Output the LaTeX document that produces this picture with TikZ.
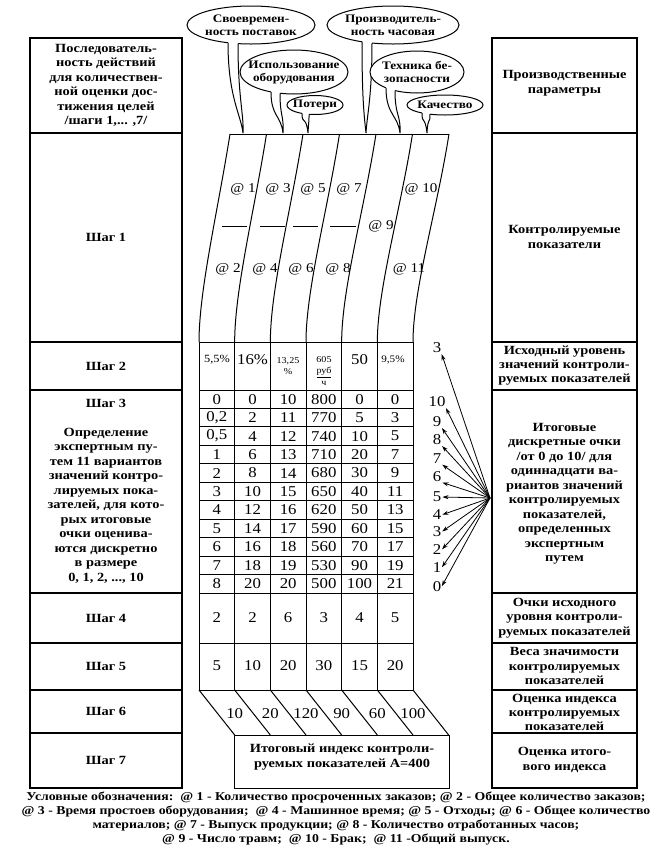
\documentclass[tikz,border=0pt]{standalone}
\usepackage{fontspec}
\setmainfont{Liberation Serif}[FakeStretch=1.15]
\newfontfamily\numfont{Liberation Serif}[FakeStretch=1.12]
\usetikzlibrary{arrows.meta}
\newcommand\btail[6]{%
  \fill[white] ({#1},{#2-3}) -- ({#1},{#2}) .. controls ({#1},{#2+0.6*(#6-#2)}) and ({#5-2},{#6-18}) .. ({#5},{#6})
     .. controls ({#5+1},{#6-18}) and ({#3},{#4+0.6*(#6-#4)}) .. ({#3},{#4}) -- ({#3},{#4-3}) -- cycle;
  \draw[line width=1pt] ({#1},{#2}) .. controls ({#1},{#2+0.6*(#6-#2)}) and ({#5-2},{#6-18}) .. ({#5},{#6})
     .. controls ({#5+1},{#6-18}) and ({#3},{#4+0.6*(#6-#4)}) .. ({#3},{#4});}
\begin{document}
\begin{tikzpicture}[x=1pt,y=-1pt,
  sbox/.style={draw,line width=2.2pt},
  tl/.style={line width=1pt},
  bt/.style={font=\bfseries\fontsize{12.5}{14.5}\selectfont,align=center,inner sep=0pt},
  blt/.style={font=\bfseries\fontsize{11.5}{13}\selectfont,align=center,inner sep=0pt},
  nt/.style={font=\numfont\fontsize{15}{15}\selectfont,inner sep=0pt},
  att/.style={font=\numfont\fontsize{13.5}{13.5}\selectfont,inner sep=0pt},
  sm/.style={font=\numfont\fontsize{9}{11.5}\selectfont,inner sep=0pt,align=center},
  balloon/.style={draw,fill=white,line width=1pt},
  arr/.style={line width=0.8pt,-{Stealth[length=6pt,width=4pt]},shorten >=1pt},
]
\useasboundingbox (0,0) rectangle (672,855);
\fill[white] (0,0) rectangle (672,855);

% ---------- side boxes
\foreach \a/\b in {38/133,133/342,342/390,390/593,593/643,643/690,690/733,733/788}{
  \draw[sbox] (30,\a) rectangle (182,\b);
  \draw[sbox] (492,\a) rectangle (637,\b);
}
\node[bt] (l0) at (106,85.5) {Последователь-\\ность действий\\для количествен-\\ной оценки дос-\\тижения целей\\/шаги 1,... ,7/};
\node[bt] (l1) at (106,237) {Шаг 1};
\node[bt] (l2) at (106,366) {Шаг 2};
\node[bt] (l3) at (106,403) {Шаг 3};
\node[bt] (l3t) at (106,505.5) {Определение\\экспертным пу-\\тем 11 вариантов\\значений контро-\\лируемых пока-\\зателей, для кото-\\рых итоговые\\очки оценива-\\ются дискретно\\в размере\\0, 1, 2, ..., 10};
\node[bt] (l4) at (106,618) {Шаг 4};
\node[bt] (l5) at (106,666) {Шаг 5};
\node[bt] (l6) at (106,711.5) {Шаг 6};
\node[bt] (l7) at (106,760) {Шаг 7};

\node[bt] (r0) at (564.5,83) {Производственные\\параметры};
\node[bt] (r1) at (564.5,237) {Контролируемые\\показатели};
\node[bt,font=\bfseries\fontsize{12.5}{14}\selectfont] (r2) at (564.5,366) {Исходный уровень\\значений контроли-\\руемых показателей};
\node[bt] (r3) at (564.5,493.5) {Итоговые\\дискретные очки\\/от 0 до 10/ для\\одиннадцати ва-\\риантов значений\\контролируемых\\показателей,\\определенных\\экспертным\\путем};
\node[bt] (r4) at (564.5,618) {Очки исходного\\уровня контроли-\\руемых показателей};
\node[bt] (r5) at (564.5,666) {Веса значимости\\контролируемых\\показателей};
\node[bt,font=\bfseries\fontsize{12.5}{14}\selectfont] (r6) at (564.5,712) {Оценка индекса\\контролируемых\\показателей};
\node[bt] (r7) at (564.5,760) {Оценка итого-\\вого индекса};

% ---------- step 1: slanted columns
\draw[tl] (230,134) -- (449,134);
\foreach \i in {0,...,6}{
  \draw[tl] ({230+36.5*\i},134) .. controls ({230+36.5*\i-12},210) and ({199+35.667*\i},290) .. ({199+35.667*\i},342);
}
\node[att] (p1) at (243,189) {@ 1};
\node[att] (p3) at (278,189) {@ 3};
\node[att] (p5) at (313,189) {@ 5};
\node[att] (p7) at (349,189) {@ 7};
\node[att] (p10) at (421,189) {@ 10};
\node[att] (p9) at (381,226) {@ 9};
\node[att] (p2) at (228,269) {@ 2};
\node[att] (p4) at (265,269) {@ 4};
\node[att] (p6) at (301,269) {@ 6};
\node[att] (p8) at (338,269) {@ 8};
\node[att] (p11) at (409,269) {@ 11};
\foreach \a/\b in {222/247,260/285,293/318,330/356}{
  \draw[line width=0.9pt] (\a,226) -- (\b,226);
}

% ---------- grid steps 2-5
\foreach \i in {0,...,6}{
  \draw[tl] ({199+35.667*\i},342) -- ({199+35.667*\i},690);
}
\foreach \y in {342,390,593,643,690}{
  \draw[tl] (199,\y) -- (413,\y);
}
\foreach \k in {1,...,10}{
  \draw[tl] (199,{390+18.4545*\k}) -- (413,{390+18.4545*\k});
}
% step 2 values
\node[font=\numfont\fontsize{11}{11}\selectfont,inner sep=0pt] (s1) at (217,360) {5,5\%};
\node[nt] (s2) at (252.5,360) {16\%};
\node[sm] (s3) at (288,366) {13,25\\\%};
\node[sm] (s4) at (324,371) {605\\\underline{руб}\\ч};
\node[nt] (s5) at (359.5,360) {50};
\node[font=\numfont\fontsize{10}{10}\selectfont,inner sep=0pt] (s6) at (393,360) {9,5\%};
% step 3 values
\foreach \v [count=\k from 0] in {0,{0,2},{0,5},1,2,3,4,5,6,7,8}
  \node[nt] (ca\k) at ({199+35.667*0.5},{390+18.4545*(\k+0.5)}) {\v};
\foreach \v [count=\k from 0] in {0,2,4,6,8,10,12,14,16,18,20}
  \node[nt] (cb\k) at ({199+35.667*1.5},{390+18.4545*(\k+0.5)}) {\v};
\foreach \v [count=\k from 0] in {10,11,12,13,14,15,16,17,18,19,20}
  \node[nt] (cc\k) at ({199+35.667*2.5},{390+18.4545*(\k+0.5)}) {\v};
\foreach \v [count=\k from 0] in {800,770,740,710,680,650,620,590,560,530,500}
  \node[nt] (cd\k) at ({199+35.667*3.5},{390+18.4545*(\k+0.5)}) {\v};
\foreach \v [count=\k from 0] in {0,5,10,20,30,40,50,60,70,90,100}
  \node[nt] (ce\k) at ({199+35.667*4.5},{390+18.4545*(\k+0.5)}) {\v};
\foreach \v [count=\k from 0] in {0,3,5,7,9,11,13,15,17,19,21}
  \node[nt] (cf\k) at ({199+35.667*5.5},{390+18.4545*(\k+0.5)}) {\v};
% step 4 and 5 values
\foreach \v [count=\k from 0] in {2,2,6,3,4,5}
  \node[nt] (q\k) at ({199+35.667*(\k+0.5)},618) {\v};
\foreach \v [count=\k from 0] in {5,10,20,30,15,20}
  \node[nt] (w\k) at ({199+35.667*(\k+0.5)},666) {\v};
% step 6 parallelograms
\foreach \i in {0,...,6}{
  \draw[tl] ({199+35.667*\i},690) -- ({199+35.667*(\i+1)},735);
}
\foreach \v [count=\k from 0] in {10,20,120,90,60,100}
  \node[nt] (z\k) at ({199+35.667*(\k+1)},714) {\v};
% step 7 box
\draw[tl] (234.667,735) rectangle (449.667,788);
\node[bt] (fin) at (342,757) {Итоговый индекс контроли-\\руемых показателей А=400};

% ---------- arrows
\coordinate (O) at (490,498);
\node[nt] (n3t) at (437,348) {3};
\node[nt] (n10) at (437,402) {10};
\node[nt] (n9) at (437,422) {9};
\node[nt] (n8) at (437,440) {8};
\node[nt] (n7) at (437,459) {7};
\node[nt] (n6) at (437,477) {6};
\node[nt] (n5) at (437,497) {5};
\node[nt] (n4) at (437,515) {4};
\node[nt] (n3) at (437,532) {3};
\node[nt] (n2) at (437,550) {2};
\node[nt] (n1) at (437,568) {1};
\node[nt] (n0) at (437,587) {0};
\foreach \n in {n3t,n10,n9,n8,n7,n6}
  \draw[arr] (O) -- (\n.south east);
\foreach \n in {n5,n4,n3,n2,n1,n0}
  \draw[arr] (O) -- (\n.east);

% ---------- balloons
\draw[balloon] (251,25) ellipse [x radius=64, y radius=19];
\btail{228}{42.7}{238}{43.6}{243}{133}
\node[blt] (b1) at (251,25) {Своевремен-\\ность поставок};
\draw[balloon] (393,25) ellipse [x radius=66, y radius=19];
\btail{362}{41.7}{372}{43}{366}{133}
\node[blt] (b4) at (393,25) {Производитель-\\ность часовая};
\draw[balloon] (294,72) ellipse [x radius=54, y radius=22];
\btail{271}{91.9}{280}{93.3}{283}{133}
\node[blt] (b2) at (294,72) {Использование\\оборудования};
\draw[balloon] (417,72) ellipse [x radius=47, y radius=21];
\btail{386}{87.8}{395}{90.6}{400}{133}
\node[blt] (b5) at (417,72) {Техника бе-\\зопасности};
\draw[balloon] (315,105) ellipse [x radius=28, y radius=9.5];
\btail{302}{113.5}{309}{114.3}{308}{133}
\node[blt] (b3) at (315,105) {Потери};
\draw[balloon] (445,105) ellipse [x radius=38, y radius=10];
\btail{422}{112.9}{430}{114.2}{427}{133}
\node[blt] (b6) at (445,105) {Качество};

% ---------- legend
\node[font=\bfseries\fontsize{12}{14}\selectfont,align=center,inner sep=0pt] (leg) at (336,818)
 {Условные обозначения:\ \ @ 1 - Количество просроченных заказов; @ 2 - Общее количество заказов;\\
  @ 3 - Время простоев оборудования;\ \ @ 4 - Машинное время; @ 5 - Отходы; @ 6 - Общее количество\\
  материалов; @ 7 - Выпуск продукции; @ 8 - Количество отработанных часов;\\
  @ 9 - Число травм;\ \ @ 10 - Брак;\ \ @ 11 -Общий выпуск.};
\end{tikzpicture}
\end{document}
